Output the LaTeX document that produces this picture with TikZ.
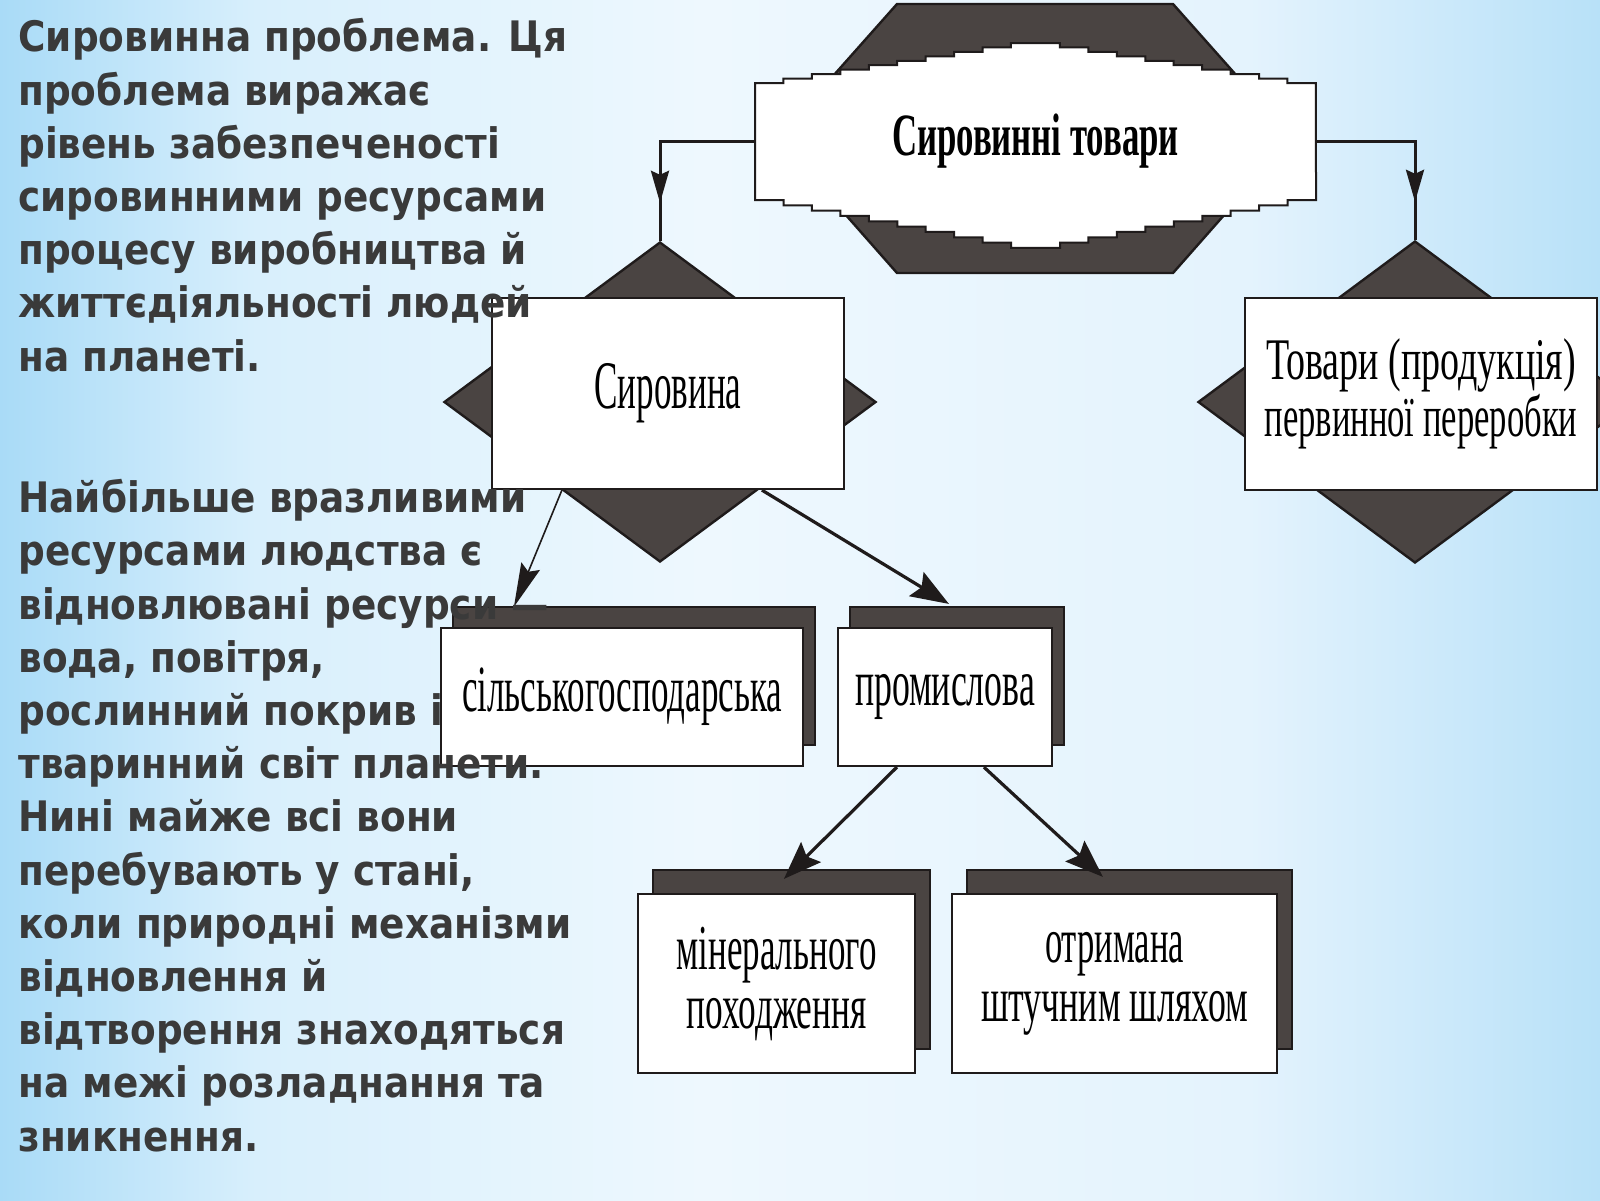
\documentclass[tikz,border=0pt]{standalone}
\usepackage{fontspec}
\usepackage{graphicx}
\usetikzlibrary{shapes.geometric,arrows.meta,decorations.markings,shadows,calc}
\newfontfamily\bodyfont{DejaVu Sans}[FakeStretch=0.89]
\newfontfamily\dfont{Liberation Serif}
\definecolor{dkfill}{HTML}{4A4442}
\definecolor{dkline}{HTML}{1F1B1B}
\definecolor{txt}{HTML}{3A3A3A}
\definecolor{bgA}{HTML}{A9DBF7}
\definecolor{bgB}{HTML}{D8EFFC}
\definecolor{bgC}{HTML}{EEF8FE}
\definecolor{bgD}{HTML}{E4F3FD}
\definecolor{bgE}{HTML}{B8E1F8}
\pgfdeclarehorizontalshading{bgshade}{100bp}{color(0bp)=(bgA); color(25bp)=(bgA); color(33bp)=(bgB); color(47bp)=(bgC); color(64bp)=(bgD); color(75bp)=(bgE); color(100bp)=(bgE)}
\tikzset{
  dk/.style={fill=dkfill, draw=dkline, line width=1.2pt},
  wshape/.style={fill=white, draw=dkline, line width=1pt},
  wbox/.style={fill=white, draw=dkline, line width=1.1pt, inner sep=0pt, align=center},
  shadA/.style={general shadow={shadow xshift=6pt, shadow yshift=10.5pt, fill=dkfill, draw=dkline, line width=1.1pt}},
  shadB/.style={general shadow={shadow xshift=7.5pt, shadow yshift=12pt, fill=dkfill, draw=dkline, line width=1.1pt}},
  topconn/.style={draw=dkline, line width=1.5pt, postaction={decorate},
    decoration={markings, mark=at position -19pt with {\arrow{Stealth[length=16pt,width=9pt,inset=2pt]}}}},
  arrthin/.style={draw=dkline, line width=0.8pt, -{Stealth[length=22pt,width=10pt,inset=3pt]}},
  arrthick/.style={draw=dkline, line width=1.6pt, -{Stealth[length=19pt,width=14pt,inset=3pt]}},
  body/.style={font=\bodyfont\bfseries\fontsize{21pt}{26.6pt}\selectfont, text=txt, align=left, inner sep=0pt, anchor=base west},
}
\begin{document}
\begin{tikzpicture}[x=0.5pt,y=-0.5pt]
\useasboundingbox (0,0) rectangle (1600,1200);
\shade[shading=bgshade] (0,0) rectangle (1600,1200);

% top element
\draw[dk] (897,4) -- (1173,4) -- (1292,138) -- (1173,273) -- (897,273) -- (778,138) -- cycle;
\draw[wshape] (755,200) -- (755,83)
  \foreach \i in {1,...,9} { -- ++(28.44,0) -- ++(0,-4.44) }
  -- ++(49,0)
  \foreach \i in {1,...,9} { -- ++(0,4.44) -- ++(28.44,0) }
  -- (1316,200)
  \foreach \i in {1,...,9} { -- ++(-28.44,0) -- ++(0,5.33) }
  -- ++(-49,0)
  \foreach \i in {1,...,9} { -- ++(0,-5.33) -- ++(-28.44,0) }
  -- cycle;
\node[inner sep=0pt, minimum width=280.5pt, minimum height=58.5pt] (title) at (1035.5,141.5)
  {\resizebox{143.5pt}{\height}{\dfont\bfseries\fontsize{30pt}{30pt}\selectfont Сировинні товари}};

% diamonds
\node[diamond, dk, minimum width=216pt, minimum height=160pt, inner sep=0pt] (dSir) at (660,402) {};
\node[diamond, dk, minimum width=217pt, minimum height=161pt, inner sep=0pt] (dTov) at (1415,402) {};

% boxes
\node[wbox, minimum width=176pt, minimum height=95.5pt, font=\dfont\fontsize{34pt}{34pt}\selectfont] (sir) at (668,393.5)
  {\resizebox{73.5pt}{\height}{Сировина}};
\node[wbox, minimum width=176pt, minimum height=96pt, font=\dfont\fontsize{29.5pt}{26.5pt}\selectfont] (tov) at (1421,394)
  {\resizebox{155pt}{\height}{Товари (продукція)}\\\resizebox{156.5pt}{\height}{первинної переробки}};
\node[wbox, shadA, minimum width=181pt, minimum height=69pt, font=\dfont\fontsize{33pt}{33pt}\selectfont] (sil) at (622,697)
  {\resizebox{160pt}{\height}{сільськогосподарська}};
\node[wbox, shadA, minimum width=107pt, minimum height=69pt, font=\dfont\fontsize{33pt}{33pt}\selectfont] (prom) at (945,697)
  {\resizebox{90pt}{\height}{промислова}};
\node[wbox, shadB, minimum width=138.5pt, minimum height=89.5pt, font=\dfont\fontsize{32pt}{29.5pt}\selectfont] (min) at (776.5,983.5)
  {\resizebox{100pt}{\height}{мінерального}\\\resizebox{90pt}{\height}{походження}};
\node[wbox, shadB, minimum width=162.5pt, minimum height=89.5pt, font=\dfont\fontsize{32pt}{29.5pt}\selectfont] (otr) at (1114.5,983.5)
  {\resizebox{69.5pt}{\height}{отримана}\\\resizebox{133.5pt}{\height}{штучним шляхом}};

% connectors
\draw[topconn] (title.west) -| (dSir.north);
\draw[topconn] (title.east) -| (dTov.north);
\draw[arrthin] ($(sir.south west)+(71,0)$) -- ($(sil.north west)+(74,-20)$);
\draw[arrthick] ($(sir.south west)+(271,0)$) -- ($(prom.north west)+(112,-23)$);
\draw[arrthick] ($(prom.south west)+(60,0)$) -- ($(min.north west)+(147,-14)$);
\draw[arrthick] ($(prom.south west)+(147,0)$) -- ($(otr.north west)+(152,-16)$);

% body text (anchored at the baseline of the last line)
\node[body] (p1) at (18,371) {Сировинна проблема. Ця\\проблема виражає\\рівень забезпеченості\\сировинними ресурсами\\процесу виробництва й\\життєдіяльності людей\\на планеті.};
\node[body] (p2) at (18,1151) {Найбільше вразливими\\ресурсами людства є\\відновлювані ресурси —\\вода, повітря,\\рослинний покрив і\\тваринний світ планети.\\Нині майже всі вони\\перебувають у стані,\\коли природні механізми\\відновлення й\\відтворення знаходяться\\на межі розладнання та\\зникнення.};
\end{tikzpicture}
\end{document}
